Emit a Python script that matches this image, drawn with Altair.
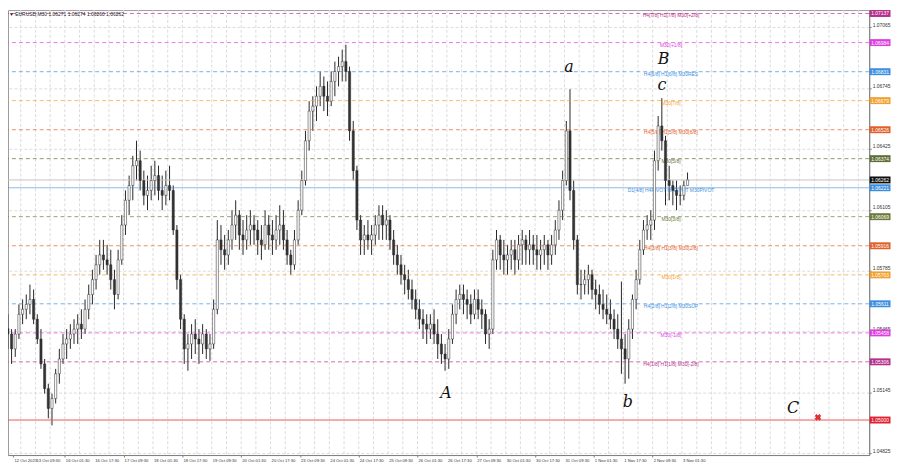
import altair as alt
import numpy as np
import pandas as pd

# ---- 2-hour candles (EURUSD, M30 view) ----
first_open = 1.05480
high = [
    1.05556, 1.05478, 1.05478, 1.05608, 1.05634, 1.05660, 1.05712, 1.05686, 1.05556, 1.05478,
    1.05321, 1.05191, 1.05139, 1.05269, 1.05374, 1.05452, 1.05478, 1.05504, 1.05530, 1.05556,
    1.05582, 1.05634, 1.05712, 1.05790, 1.05868, 1.05947, 1.05947, 1.05921, 1.05895, 1.05790,
    1.05895, 1.06077, 1.06207, 1.06285, 1.06389, 1.06468, 1.06416, 1.06311, 1.06285, 1.06337,
    1.06363, 1.06337, 1.06285, 1.06311, 1.06337, 1.06233, 1.06025, 1.05764, 1.05556, 1.05452,
    1.05504, 1.05530, 1.05478, 1.05504, 1.05478, 1.05452, 1.05634, 1.06051, 1.06025, 1.05973,
    1.05999, 1.06103, 1.06155, 1.06103, 1.06051, 1.06077, 1.06103, 1.06077, 1.06051, 1.06025,
    1.06103, 1.06077, 1.06051, 1.06077, 1.06129, 1.06103, 1.05999, 1.05895, 1.05999, 1.06155,
    1.06311, 1.06520, 1.06676, 1.06702, 1.06754, 1.06832, 1.06806, 1.06780, 1.06832, 1.06884,
    1.06910, 1.06947, 1.06973, 1.06858, 1.06572, 1.06337, 1.06077, 1.06025, 1.06051, 1.06025,
    1.06077, 1.06129, 1.06129, 1.06103, 1.06077, 1.05999, 1.05921, 1.05868, 1.05816, 1.05790,
    1.05738, 1.05686, 1.05634, 1.05582, 1.05556, 1.05556, 1.05582, 1.05530, 1.05452, 1.05400,
    1.05478, 1.05608, 1.05686, 1.05712, 1.05712, 1.05686, 1.05660, 1.05686, 1.05686, 1.05634,
    1.05582, 1.05530, 1.05895, 1.05999, 1.05973, 1.05947, 1.05921, 1.05947, 1.05947, 1.05973,
    1.05999, 1.05973, 1.05999, 1.05973, 1.05973, 1.05947, 1.05973, 1.05947, 1.05973, 1.06051,
    1.06155, 1.06311, 1.06572, 1.06739, 1.06259, 1.05973, 1.05790, 1.05790, 1.05816, 1.05790,
    1.05738, 1.05712, 1.05686, 1.05660, 1.05634, 1.05582, 1.05556, 1.05728, 1.05452, 1.05530,
    1.05660, 1.05790, 1.05947, 1.06051, 1.06077, 1.06103, 1.06416, 1.06598, 1.06692, 1.06494,
    1.06337, 1.06259, 1.06259, 1.06233, 1.06259, 1.06301,
]
low = [
    1.05374, 1.05295, 1.05332, 1.05426, 1.05504, 1.05530, 1.05556, 1.05504, 1.05400, 1.05269,
    1.05139, 1.05009, 1.04972, 1.05087, 1.05191, 1.05295, 1.05321, 1.05374, 1.05400, 1.05400,
    1.05426, 1.05452, 1.05530, 1.05608, 1.05686, 1.05764, 1.05790, 1.05764, 1.05686, 1.05582,
    1.05634, 1.05816, 1.05973, 1.06077, 1.06155, 1.06259, 1.06207, 1.06129, 1.06103, 1.06155,
    1.06181, 1.06155, 1.06103, 1.06129, 1.06155, 1.05973, 1.05686, 1.05478, 1.05295, 1.05259,
    1.05321, 1.05347, 1.05295, 1.05347, 1.05321, 1.05311, 1.05374, 1.05556, 1.05816, 1.05790,
    1.05816, 1.05895, 1.05947, 1.05895, 1.05868, 1.05895, 1.05921, 1.05921, 1.05868, 1.05842,
    1.05895, 1.05895, 1.05868, 1.05895, 1.05921, 1.05895, 1.05816, 1.05764, 1.05790, 1.05921,
    1.06077, 1.06233, 1.06416, 1.06520, 1.06572, 1.06650, 1.06624, 1.06598, 1.06650, 1.06702,
    1.06754, 1.06780, 1.06780, 1.06468, 1.06259, 1.05999, 1.05868, 1.05868, 1.05895, 1.05868,
    1.05921, 1.05947, 1.05947, 1.05947, 1.05895, 1.05816, 1.05764, 1.05712, 1.05660, 1.05634,
    1.05582, 1.05530, 1.05478, 1.05426, 1.05400, 1.05426, 1.05400, 1.05321, 1.05295, 1.05259,
    1.05269, 1.05400, 1.05504, 1.05582, 1.05556, 1.05530, 1.05504, 1.05530, 1.05530, 1.05478,
    1.05400, 1.05374, 1.05452, 1.05790, 1.05790, 1.05764, 1.05764, 1.05790, 1.05764, 1.05790,
    1.05816, 1.05816, 1.05816, 1.05816, 1.05790, 1.05790, 1.05816, 1.05790, 1.05816, 1.05868,
    1.05947, 1.06051, 1.06233, 1.06155, 1.05895, 1.05660, 1.05634, 1.05660, 1.05660, 1.05634,
    1.05582, 1.05556, 1.05530, 1.05504, 1.05478, 1.05426, 1.05374, 1.05243, 1.05191, 1.05217,
    1.05426, 1.05582, 1.05712, 1.05868, 1.05947, 1.05947, 1.05999, 1.06311, 1.06416, 1.06129,
    1.06155, 1.06129, 1.06103, 1.06129, 1.06155, 1.06233,
]
close = [
    1.05452, 1.05374, 1.05452, 1.05556, 1.05582, 1.05608, 1.05634, 1.05530, 1.05426, 1.05295,
    1.05165, 1.05061, 1.05113, 1.05243, 1.05321, 1.05400, 1.05426, 1.05452, 1.05478, 1.05504,
    1.05478, 1.05582, 1.05660, 1.05738, 1.05816, 1.05868, 1.05842, 1.05816, 1.05738, 1.05660,
    1.05842, 1.06025, 1.06155, 1.06233, 1.06337, 1.06363, 1.06259, 1.06181, 1.06207, 1.06259,
    1.06285, 1.06207, 1.06181, 1.06233, 1.06207, 1.05999, 1.05738, 1.05530, 1.05374, 1.05400,
    1.05452, 1.05426, 1.05400, 1.05452, 1.05374, 1.05400, 1.05582, 1.05947, 1.05895, 1.05868,
    1.05947, 1.06025, 1.06077, 1.05973, 1.05947, 1.05999, 1.06025, 1.05999, 1.05947, 1.05921,
    1.06025, 1.05973, 1.05947, 1.05999, 1.06025, 1.05947, 1.05868, 1.05816, 1.05947, 1.06103,
    1.06259, 1.06468, 1.06624, 1.06650, 1.06702, 1.06754, 1.06702, 1.06676, 1.06780, 1.06832,
    1.06858, 1.06884, 1.06832, 1.06520, 1.06311, 1.06051, 1.05947, 1.05973, 1.05947, 1.05973,
    1.06025, 1.06077, 1.06025, 1.06051, 1.05947, 1.05868, 1.05816, 1.05764, 1.05738, 1.05686,
    1.05634, 1.05582, 1.05530, 1.05504, 1.05478, 1.05504, 1.05452, 1.05400, 1.05347, 1.05321,
    1.05426, 1.05556, 1.05634, 1.05660, 1.05634, 1.05608, 1.05556, 1.05634, 1.05582, 1.05556,
    1.05452, 1.05478, 1.05842, 1.05947, 1.05868, 1.05842, 1.05868, 1.05895, 1.05842, 1.05921,
    1.05947, 1.05895, 1.05921, 1.05895, 1.05868, 1.05895, 1.05921, 1.05868, 1.05921, 1.05999,
    1.06103, 1.06259, 1.06520, 1.06207, 1.05947, 1.05712, 1.05712, 1.05738, 1.05764, 1.05686,
    1.05660, 1.05608, 1.05582, 1.05556, 1.05530, 1.05478, 1.05426, 1.05374, 1.05321, 1.05478,
    1.05634, 1.05738, 1.05895, 1.05999, 1.06025, 1.06051, 1.06363, 1.06546, 1.06468, 1.06259,
    1.06233, 1.06207, 1.06181, 1.06181, 1.06233, 1.06262,
]

# ---- axis tick labels ----
first_label = "12 Oct 2023"
time_labels = ["13 Oct 09:30", "16 Oct 01:30", "16 Oct 17:30", "17 Oct 09:30", "18 Oct 01:30",
               "18 Oct 17:30", "19 Oct 09:30", "20 Oct 01:30", "20 Oct 17:30", "23 Oct 09:30",
               "24 Oct 01:30", "24 Oct 17:30", "25 Oct 09:30", "26 Oct 01:30", "26 Oct 17:30",
               "27 Oct 09:30", "30 Oct 01:30", "30 Oct 17:30", "31 Oct 09:30", "1 Nov 01:30",
               "1 Nov 17:30", "2 Nov 09:30", "3 Nov 01:30"]
price_ticks = [1.04825, 1.04905, 1.04985, 1.05065, 1.05145, 1.05225, 1.05305, 1.05385, 1.05465,
               1.05545, 1.05625, 1.05705, 1.05785, 1.05865, 1.05945, 1.06025, 1.06105, 1.06185,
               1.06265, 1.06345, 1.06425, 1.06505, 1.06585, 1.06665, 1.06745, 1.06825, 1.06905,
               1.06985, 1.07065, 1.07145]

# ---- Murrey levels ----
level_prices = [1.07137, 1.06984, 1.06831, 1.06679, 1.06526, 1.06374, 1.06221,
                1.06069, 1.05916, 1.05763, 1.05611, 1.05458, 1.05306]
level_names = ["H4[7/8] H1[7/8] M30[+2/8]", "M30[+1/8]", "H4[6/8] H1[6/8] M30RES", "M30[7/8]",
               "H4[5/8] H1[5/8] M30[6/8]", "M30[5/8]", "D1[4/8] H4PIVOT H1PIVOT M30PIVOT",
               "M30[3/8]", "H4[3/8] H1[3/8] M30[2/8]", "M30[1/8]", "H4[2/8] H1[2/8] M30SUP",
               "M30[-1/8]", "H4[1/8] H1[1/8] M30[-2/8]"]
level_colors = ["#b4308c", "#de3ede", "#3c8fe0", "#f0a030", "#e0602a", "#5f6e36", "#3c8fe0",
                "#6b7a3a", "#e0602a", "#f0a030", "#3c8fe0", "#de3ede", "#b4308c"]
level_dashed = [True, True, True, True, True, True, False, True, True, True, True, True, True]

current_price = 1.06262
red_line_price = 1.05000

# ---- wave annotations ----
wave_text = ["A", "a", "b", "B", "c", "C"]
wave_bar = [447, 581, 645, 684, 682, 825]
wave_price = [1.05144, 1.06853, 1.05092, 1.06900, 1.06759, 1.05061]
cross_bar = [852]
cross_price = [1.05014]

header = "\u25BC EURUSD,M30  1.06271 1.06274 1.06260 1.06262"

# ---- tables ----
n = len(close)
opens = [first_open] + close[:-1]
df = pd.DataFrame({"bar": [4 * k - 30 for k in range(n)], "open": opens,
                   "high": high, "low": low, "close": close})
df["hi"] = df[["high", "open", "close"]].max(axis=1)
df["lo"] = df[["low", "open", "close"]].min(axis=1)

lv = pd.DataFrame({"price": level_prices, "name": level_names, "color": level_colors,
                   "dashed": level_dashed})
tags = pd.DataFrame({"price": level_prices + [current_price, red_line_price],
                     "color": level_colors + ["#111111", "#e02030"]})
tags["txt"] = tags["price"].map(lambda v: f"{v:.5f}")
waves = pd.DataFrame({"t": wave_text, "bar": wave_bar, "price": wave_price})
cross = pd.DataFrame({"bar": cross_bar, "price": cross_price})
vgrid = pd.DataFrame({"bar": list(range(-16, 903, 16))})
x_ticks = [-24] + [32 * j for j in range(len(time_labels))]
xlab = pd.DataFrame({"bar": x_ticks, "lab": [first_label] + time_labels})

FONT = "Liberation Sans"
xs = alt.Scale(domain=[-24.5, 902.4], nice=False, zero=False)
ys = alt.Scale(domain=[1.04816, 1.07155], nice=False, zero=False)

x_axis = alt.Axis(values=x_ticks, labels=False, title=None, tickSize=2, grid=False)
y_axis = alt.Axis(values=price_ticks, format=".5f", orient="right", title=None,
                  labelFontSize=5, labelPadding=1, tickSize=2, labelBaseline="bottom",
                  labelOverlap=False, labelColor="#333", grid=True, labelFlush=False)

grid_v = alt.Chart(vgrid).mark_rule(color="#dcdcdc", strokeDash=[3, 2], strokeWidth=1).encode(
    x=alt.X("bar:Q", scale=xs, axis=x_axis))

x_labels = alt.Chart(xlab).mark_text(fontSize=4.2, font=FONT, align="left", baseline="middle",
                                     color="#333", dx=1).encode(
    x=alt.X("bar:Q", scale=xs), y=alt.value(455), text="lab:N")

wicks = alt.Chart(df).mark_rule(color="#262626", strokeWidth=1, clip=True).encode(
    x=alt.X("bar:Q", scale=xs),
    y=alt.Y("lo:Q", scale=ys, axis=y_axis),
    y2="hi:Q",
)
bodies = alt.Chart(df).mark_bar(size=2.2, stroke="#262626", strokeWidth=0.5, clip=True).encode(
    x=alt.X("bar:Q", scale=xs),
    y=alt.Y("open:Q", scale=ys),
    y2="close:Q",
    color=alt.condition("datum.close >= datum.open", alt.value("#ffffff"), alt.value("#333333")),
)

dashed_lines = alt.Chart(lv[lv.dashed]).mark_rule(strokeDash=[4, 3], strokeWidth=1, opacity=0.7).encode(
    y=alt.Y("price:Q", scale=ys), color=alt.Color("color:N", scale=None))
pivot_line = alt.Chart(lv[~lv.dashed]).mark_rule(strokeWidth=1, opacity=0.6).encode(
    y=alt.Y("price:Q", scale=ys), color=alt.Color("color:N", scale=None))
cur_line = alt.Chart(pd.DataFrame({"price": [current_price]})).mark_rule(
    color="#c4c4c4", strokeWidth=1).encode(y=alt.Y("price:Q", scale=ys))
red_line = alt.Chart(pd.DataFrame({"price": [red_line_price]})).mark_rule(
    color="#e85a5a", strokeWidth=1).encode(y=alt.Y("price:Q", scale=ys))

level_text = alt.Chart(lv).mark_text(fontSize=5, font=FONT, align="center", baseline="middle", dy=2).encode(
    x=alt.value(669), y=alt.Y("price:Q", scale=ys), text="name:N",
    color=alt.Color("color:N", scale=None))

tag_box = alt.Chart(tags).mark_tick(orient="horizontal", thickness=7, size=21, opacity=1).encode(
    x=alt.value(880), y=alt.Y("price:Q", scale=ys), color=alt.Color("color:N", scale=None))
tag_text = alt.Chart(tags).mark_text(fontSize=5, font=FONT, color="white", align="center",
                                     baseline="middle").encode(
    x=alt.value(880), y=alt.Y("price:Q", scale=ys), text="txt:N")

wave_marks = alt.Chart(waves).mark_text(fontSize=16, font="DejaVu Serif", fontStyle="italic",
                                        color="#111", align="center", baseline="middle").encode(
    x=alt.X("bar:Q", scale=xs), y=alt.Y("price:Q", scale=ys), text="t:N")
cross_mark = alt.Chart(cross).mark_point(shape="cross", angle=45, filled=True, size=45,
                                         color="#e03030", opacity=1).encode(
    x=alt.X("bar:Q", scale=xs), y=alt.Y("price:Q", scale=ys))

head = alt.Chart(pd.DataFrame({"t": [header]})).mark_text(
    fontSize=5, font=FONT, align="left", baseline="top", color="#222").encode(
    x=alt.value(1), y=alt.value(2), text="t:N")

chart = alt.layer(
    grid_v, wicks, dashed_lines, pivot_line, cur_line, red_line, level_text, bodies,
    tag_box, tag_text, wave_marks, cross_mark, head, x_labels,
).properties(
    width=869, height=449,
    padding={"left": 0, "top": 0, "right": 23, "bottom": 12},
    autosize=alt.AutoSizeParams(type="none"),
).configure_view(
    stroke="#9a9a9a", strokeWidth=1
).configure_axis(
    labelFont=FONT, gridColor="#dcdcdc", gridDash=[3, 2], gridWidth=1,
    domainColor="#808080", tickColor="#808080"
)

chart.save("out.html", embed_options={"renderer": "svg", "actions": False})
